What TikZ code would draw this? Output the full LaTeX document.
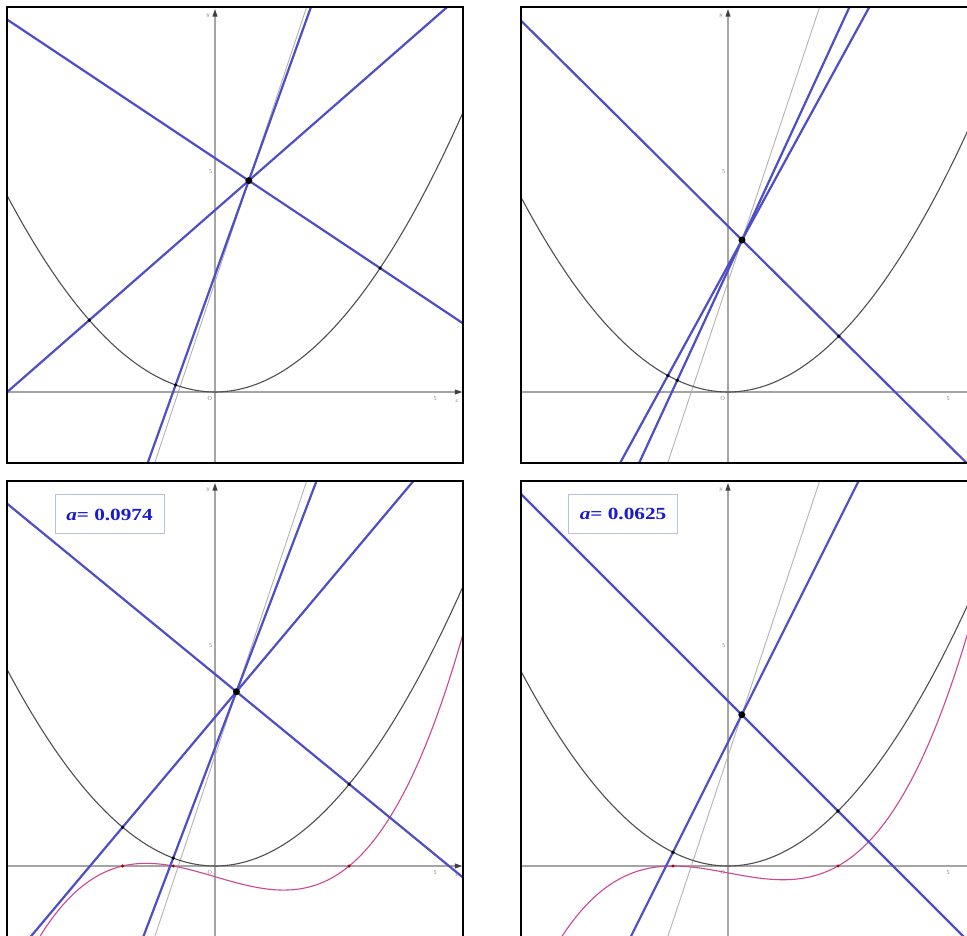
\documentclass[tikz,border=0pt]{standalone}
\usepackage{fontspec}
\setmainfont{Liberation Serif}
\usetikzlibrary{calc,arrows.meta}
\definecolor{nblue}{RGB}{78,78,198}
\definecolor{pcurve}{RGB}{80,80,80}
\definecolor{axgray}{RGB}{165,165,165}
\definecolor{lgray}{RGB}{178,178,178}
\definecolor{cubicc}{RGB}{205,70,150}
\definecolor{lblue}{RGB}{25,25,205}
\definecolor{boxc}{RGB}{185,195,215}
\tikzset{
 frame/.style={line width=2.6pt, black},
 axis/.style={axgray, line width=1.1pt},
 parab/.style={pcurve, line width=1.1pt},
 normal/.style={nblue, line width=2.2pt},
 locus/.style={lgray, line width=0.9pt},
 cubic/.style={cubicc, line width=1.1pt},
 foot/.style={circle, fill=black, inner sep=0pt, minimum size=3.6pt},
 centre/.style={circle, fill=black, inner sep=0pt, minimum size=7pt},
 root/.style={circle, fill=red!65!black, inner sep=0pt, minimum size=3.4pt},
 ticklab/.style={font=\fontsize{6}{6}\selectfont, text=gray, inner sep=0pt},
 abox/.style={draw=boxc, fill=white, line width=1pt, minimum width=109pt, minimum height=39pt, text=lblue, font=\fontsize{17}{17}\selectfont\bfseries}
}
\newcommand\gbase{%
  \draw[locus] (-4,-9.5) -- (3,11.5);
  \draw[axis] (-5,0) -- (5.5,0);
  \draw[axis] (0,-2) -- (0,8.6);
  \fill[black!75] (0,8.7) -- (-0.06,8.53) -- (0.06,8.53) -- cycle;
  \draw[parab, domain=-4.9:5.8, samples=120] plot (\x, {0.2*\x*\x});
  \node[ticklab] (tx) at (5,-0.15) {5};
  \node[ticklab] (ty) at (-0.1,5) {5};
  \node[ticklab] (yl) at (-0.16,8.55) {$y$};
  \node[ticklab] (ol) at (-0.12,-0.15) {O};
}
\newcommand\xend{%
  \fill[black!75] (5.62,0) -- (5.45,0.06) -- (5.45,-0.06) -- cycle;
  \node[ticklab] (xl) at (5.5,-0.22) {$x$};
}
\newcommand\footpt[2]{\coordinate (#1) at (#2, {0.2*(#2)*(#2)});}
\newcommand\normalline[1]{\draw[normal] ($(P)!-9!(#1)$) -- ($(P)!9!(#1)$);}
\begin{document}
\begin{tikzpicture}[x=1pt,y=1pt]
\useasboundingbox (0,0) rectangle (967,935);
\fill[white] (0,0) rectangle (967,935);
% ---------- panel 1 ----------
\begin{scope}
\clip (7,472) rectangle (463,928);
\begin{scope}[shift={(215pt,543pt)}, x=44pt, y=44pt]
  \gbase\xend
  \coordinate (P) at (0.768,4.804);
  \footpt{A}{-2.857}\footpt{C}{-0.895}\footpt{B}{3.752}
  \normalline{A}\normalline{B}\normalline{C}
  \node[foot] (fa) at (A) {}; \node[foot] (fb) at (B) {}; \node[foot] (fc) at (C) {};
  \node[centre] (pc) at (P) {};
\end{scope}
\end{scope}
% ---------- panel 2 ----------
\begin{scope}
\clip (521,472) rectangle (967,928);
\begin{scope}[shift={(728pt,543pt)}, x=44pt, y=44pt]
  \gbase
  \coordinate (P) at (0.318,3.454);
  \footpt{A}{-1.366}\footpt{C}{-1.153}\footpt{B}{2.519}
  \normalline{A}\normalline{B}\normalline{C}
  \node[foot] (fa) at (A) {}; \node[foot] (fb) at (B) {}; \node[foot] (fc) at (C) {};
  \node[centre] (pc) at (P) {};
\end{scope}
\end{scope}
% ---------- panel 3 ----------
\begin{scope}
\clip (7,0) rectangle (463,454);
\begin{scope}[shift={(215pt,69pt)}, x=44pt, y=44pt]
  \gbase\xend
  \draw[cubic, domain=-4.9:5.8, samples=150] plot (\x, {0.04*(\x*\x*\x - 7.305*\x - 6.0875)});
  \coordinate (P) at (0.487,3.961);
  \footpt{A}{-2.0996}\footpt{C}{-0.950}\footpt{B}{3.0495}
  \normalline{A}\normalline{B}\normalline{C}
  \node[root] (ra) at (-2.0996,0) {}; \node[root] (rc) at (-0.950,0) {}; \node[root] (rb) at (3.0495,0) {};
  \node[foot] (fa) at (A) {}; \node[foot] (fb) at (B) {}; \node[foot] (fc) at (C) {};
  \node[centre] (pc) at (P) {};
\end{scope}
\end{scope}
% ---------- panel 4 ----------
\begin{scope}
\clip (521,0) rectangle (967,454);
\begin{scope}[shift={(728pt,69pt)}, x=44pt, y=44pt]
  \gbase
  \draw[cubic, domain=-4.9:5.8, samples=150] plot (\x, {0.04*(\x*\x*\x - 4.6875*\x - 3.90625)});
  \coordinate (P) at (0.3125,3.4375);
  \footpt{A}{-1.25}\footpt{B}{2.5}
  \normalline{A}\normalline{B}
  \node[root] (ra) at (-1.25,0) {}; \node[root] (rb) at (2.5,0) {};
  \node[foot] (fa) at (A) {}; \node[foot] (fb) at (B) {};
  \node[centre] (pc) at (P) {};
\end{scope}
\end{scope}
% ---------- labels ----------
\node[abox] (lab3) at (109.5,420.5) {\scalebox{1.25}[1]{{\itshape a}= 0.0974}};
\node[abox] (lab4) at (623,421) {\scalebox{1.25}[1]{{\itshape a}= 0.0625}};
% ---------- frames ----------
\draw[frame] (7,472) rectangle (463,928);
\draw[frame] (968,928) -- (521,928) -- (521,472) -- (968,472);
\draw[frame] (7,-2) -- (7,454) -- (463,454) -- (463,-2);
\draw[frame] (521,-2) -- (521,454) -- (968,454);
\end{tikzpicture}
\end{document}
